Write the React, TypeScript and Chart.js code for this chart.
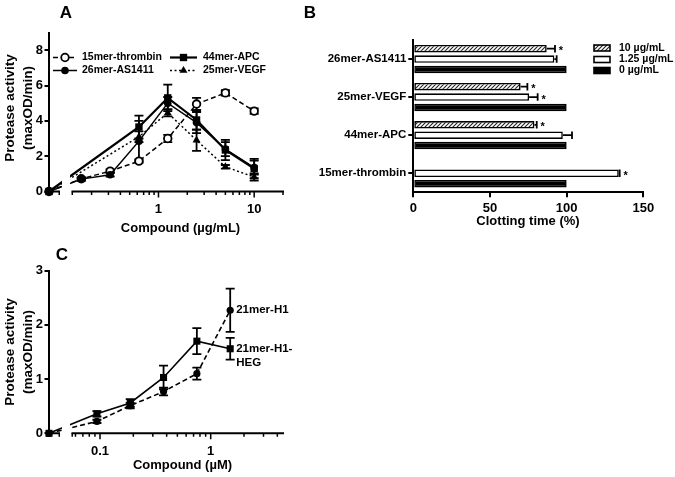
import { useEffect, useRef } from "react";
import { Chart, registerables } from "chart.js";

Chart.register(...registerables);

const FONT = "'Liberation Sans', Arial, Helvetica, sans-serif";
Chart.defaults.font.family = FONT;
Chart.defaults.color = "#000";

// ================= DATA =================
// Panel A: protease activity vs compound (µg/mL); 0 is drawn on the axis break
const A_DOSE = [0, 0.15625, 0.3125, 0.625, 1.25, 2.5, 5, 10];
const A_SERIES = ["15mer-thrombin", "26mer-AS1411", "44mer-APC", "25mer-VEGF"];
const A_THROMBIN = [0, 0.72, 1.15, 1.72, 3.0, 4.95, 5.58, 4.55];
const A_THROMBIN_ERR = [0, 0.06, 0.1, 0.1, 0.2, 0.35, 0.15, 0.15];
const A_AS1411 = [0, 0.7, 0.95, 2.85, 5.0, 3.9, 2.4, 1.35];
const A_AS1411_ERR = [0, 0.1, 0.1, 1.15, 0.35, 0.6, 0.4, 0.4];
const A_APC = [0, null, null, 3.65, 5.3, 4.05, 2.35, 1.3];
const A_APC_ERR = [0, null, null, 0.65, 0.75, 0.55, 0.57, 0.55];
const A_VEGF = [0, null, null, 3.1, 4.45, 2.9, 1.4, 0.82];
const A_VEGF_ERR = [0, null, null, 0.3, 0.2, 0.6, 0.1, 0.2];
const A_Y_TICKS = [0, 2, 4, 6, 8];
const A_X_MAJOR = [1, 10];
const A_X_MINOR = [0.2, 0.3, 0.4, 0.5, 0.6, 0.7, 0.8, 0.9, 2, 3, 4, 5, 6, 7, 8, 9, 20];

// Panel B: clotting time (%)
const B_CATEGORIES = ["26mer-AS1411", "25mer-VEGF", "44mer-APC", "15mer-thrombin"];
const B_SERIES = ["10 µg/mL", "1.25 µg/mL", "0 µg/mL"];
const B_10 = [87, 70, 79, 0];
const B_10_ERR = [5.4, 4.4, 1.5, 0];
const B_10_STAR = [true, true, true, false];
const B_125 = [92, 75.5, 97.5, 134];
const B_125_ERR = [1.5, 5.6, 6, 0.6];
const B_125_STAR = [false, true, false, true];
const B_0 = [100, 100, 100, 100];
const B_0_ERR = [0, 0, 0, 0];
const B_0_STAR = [false, false, false, false];
const B_X_TICKS = [0, 50, 100, 150];

// Panel C: protease activity vs compound (µM)
const C_DOSE = [0, 0.09375, 0.1875, 0.375, 0.75, 1.5];
const C_SERIES = ["21mer-H1", "21mer-H1-HEG"];
const C_END_LABELS = [["21mer-H1"], ["21mer-H1-", "HEG"]];
const C_H1 = [0, 0.22, 0.51, 0.77, 1.1, 2.27];
const C_H1_ERR = [0, 0.03, 0.05, 0.07, 0.11, 0.4];
const C_HEG = [0, 0.36, 0.56, 1.03, 1.7, 1.56];
const C_HEG_ERR = [0, 0.05, 0.07, 0.22, 0.24, 0.2];
const C_Y_TICKS = [0, 1, 2, 3];
const C_X_MAJOR = [0.1, 1];
const C_X_MINOR = [0.06, 0.07, 0.08, 0.09, 0.2, 0.3, 0.4, 0.5, 0.6, 0.7, 0.8, 0.9, 2, 3, 4];

// ================= LAYOUT =================
const W = 675;
const H = 477;
const A_AREA = { left: 49, right: 283, top: 32.5, bottom: 191.5 };
const A_ZERO = 0.0718; // axis position where the "0" dose sits (before the break)
const A_LOG_MIN = 0.125;
const A_LOG_MAX = 20;
const B_AREA = { left: 413.3, right: 643.3, top: 40, bottom: 192.3 };
const B_LABEL_W = 110;
const C_AREA = { left: 49, right: 283, top: 270.7, bottom: 433.3 };
const C_ZERO = 0.0346;
const C_LOG_MIN = 0.0558;
const C_LOG_MAX = 4.5;
const ZERO_SEG = 11;
const MAJOR_LEN = 6;
const MINOR_LEN = 3.5;

const padOf = (a: any, yW: number) => ({ left: a.left - yW, right: W - a.right, top: a.top, bottom: 0 });
const bold = (px: number) => `bold ${px}px ${FONT}`;

type Style = { kind: string; r: number; lw: number; dash: number[]; order: number };
const A_STYLE: Style[] = [
  { kind: "open", r: 3.8, lw: 1.5, dash: [5, 3], order: 3 },
  { kind: "circle", r: 3.8, lw: 1.5, dash: [], order: 0 },
  { kind: "rect", r: 5.2, lw: 2.2, dash: [], order: 1 },
  { kind: "triangle", r: 4.6, lw: 1.5, dash: [2, 2.5], order: 2 },
];
const C_STYLE: Style[] = [
  { kind: "circle", r: 3.6, lw: 1.6, dash: [5, 3], order: 1 },
  { kind: "rect", r: 5, lw: 1.6, dash: [], order: 0 },
];

function text(ctx: CanvasRenderingContext2D, s: string, x: number, y: number, px: number, align: CanvasTextAlign = "left", rot = 0) {
  ctx.save();
  ctx.font = bold(px);
  ctx.fillStyle = "#000";
  ctx.textAlign = align;
  ctx.textBaseline = "middle";
  ctx.translate(x, y);
  if (rot) ctx.rotate(rot);
  ctx.fillText(s, 0, 0);
  ctx.restore();
}

function marker(ctx: CanvasRenderingContext2D, kind: string, x: number, y: number, r: number) {
  ctx.save();
  ctx.fillStyle = "#000";
  ctx.strokeStyle = "#000";
  ctx.lineWidth = 1.8;
  ctx.setLineDash([]);
  ctx.beginPath();
  if (kind === "open") {
    ctx.arc(x, y, r, 0, Math.PI * 2);
    ctx.fillStyle = "#fff";
    ctx.fill();
    ctx.stroke();
  } else if (kind === "circle") {
    ctx.arc(x, y, r, 0, Math.PI * 2);
    ctx.fill();
  } else if (kind === "rect") {
    const s = r * Math.SQRT1_2;
    ctx.rect(x - s, y - s, 2 * s, 2 * s);
    ctx.fill();
  } else {
    ctx.moveTo(x, y - r);
    ctx.lineTo(x + 0.866 * r, y + 0.5 * r);
    ctx.lineTo(x - 0.866 * r, y + 0.5 * r);
    ctx.closePath();
    ctx.fill();
  }
  ctx.restore();
}

function lineDataset(label: string, xs: number[], ys: (number | null)[], es: (number | null)[], st: Style, zero: number) {
  const data: any[] = [];
  const errors: number[] = [];
  xs.forEach((x, i) => {
    const y = ys[i];
    if (y == null) return;
    data.push({ x: x === 0 ? zero : x, y });
    errors.push((es[i] as number) || 0);
  });
  const open = st.kind === "open";
  return {
    label,
    data,
    errors,
    order: st.order,
    borderColor: "#000",
    borderWidth: st.lw,
    borderDash: st.dash,
    pointStyle: st.kind === "open" ? "circle" : st.kind,
    pointRadius: st.r,
    pointBackgroundColor: open ? "#fff" : "#000",
    pointBorderColor: "#000",
    pointBorderWidth: open ? 1.8 : 0,
    tension: 0,
    fill: false,
    clip: false,
  };
}

function drawVErrors(chart: any, cap: number) {
  const ctx = chart.ctx as CanvasRenderingContext2D;
  const ys = chart.scales.y;
  ctx.save();
  ctx.strokeStyle = "#000";
  ctx.lineWidth = 1.8;
  ctx.setLineDash([]);
  chart.data.datasets.forEach((ds: any, di: number) => {
    const meta = chart.getDatasetMeta(di);
    meta.data.forEach((el: any, i: number) => {
      const e = ds.errors[i];
      if (!e) return;
      const v = ds.data[i].y;
      const t = ys.getPixelForValue(v + e);
      const b = ys.getPixelForValue(v - e);
      ctx.beginPath();
      ctx.moveTo(el.x, t);
      ctx.lineTo(el.x, b);
      ctx.moveTo(el.x - cap, t);
      ctx.lineTo(el.x + cap, t);
      ctx.moveTo(el.x - cap, b);
      ctx.lineTo(el.x + cap, b);
      ctx.stroke();
    });
  });
  ctx.restore();
}

function drawBrokenX(chart: any, zero: number, start: number, end: number, major: number[], minor: number[]) {
  const ctx = chart.ctx as CanvasRenderingContext2D;
  const xs = chart.scales.x;
  const y = chart.chartArea.bottom;
  const x0 = xs.getPixelForValue(zero);
  const xa = xs.getPixelForValue(start);
  const xb = xs.getPixelForValue(end);
  ctx.save();
  ctx.strokeStyle = "#000";
  ctx.lineWidth = 2;
  ctx.beginPath();
  ctx.moveTo(x0 - 1, y);
  ctx.lineTo(x0 + ZERO_SEG, y);
  ctx.moveTo(xa - 0.5, y);
  ctx.lineTo(xb + 1, y);
  ctx.stroke();
  ctx.lineWidth = 1.5;
  ctx.beginPath();
  const tick = (x: number, len: number) => {
    ctx.moveTo(x, y);
    ctx.lineTo(x, y + len);
  };
  tick(x0 + ZERO_SEG - 0.75, MINOR_LEN);
  tick(xa + 0.25, MINOR_LEN);
  minor.forEach((v) => tick(xs.getPixelForValue(v), MINOR_LEN));
  major.forEach((v) => tick(xs.getPixelForValue(v), MAJOR_LEN));
  ctx.stroke();
  ctx.restore();
}

function clearGap(chart: any, zero: number, start: number) {
  const ctx = chart.ctx as CanvasRenderingContext2D;
  const xs = chart.scales.x;
  const x1 = xs.getPixelForValue(zero) + ZERO_SEG + 2;
  const x2 = xs.getPixelForValue(start) - 2;
  const { top, bottom } = chart.chartArea;
  ctx.save();
  ctx.fillStyle = "#fff";
  ctx.fillRect(x1, top, x2 - x1, bottom - 1.5 - top);
  ctx.restore();
}

function yTitle(ctx: CanvasRenderingContext2D, cy: number) {
  text(ctx, "Protease activity", 10.5, cy, 13.5, "center", -Math.PI / 2);
  text(ctx, "(maxOD/min)", 28, cy, 13.5, "center", -Math.PI / 2);
}

function legendSymbol(ctx: CanvasRenderingContext2D, st: Style, x1: number, x2: number, y: number) {
  ctx.save();
  ctx.strokeStyle = "#000";
  ctx.lineWidth = st.lw;
  ctx.setLineDash(st.dash);
  ctx.beginPath();
  ctx.moveTo(x1, y);
  ctx.lineTo(x2, y);
  ctx.stroke();
  ctx.restore();
  marker(ctx, st.kind, (x1 + x2) / 2, y, st.r);
}

const baseOptions = (area: any, yW: number) => ({
  responsive: false,
  animation: false as const,
  devicePixelRatio: 1,
  events: [] as any[],
  layout: { padding: padOf(area, yW) },
  plugins: { legend: { display: false }, tooltip: { enabled: false }, title: { display: false } },
});

const yAxis = (max: number, ticks: number[], width: number) => ({
  type: "linear" as const,
  min: 0,
  max,
  afterFit: (s: any) => { s.width = width; },
  afterBuildTicks: (s: any) => { s.ticks = ticks.map((v) => ({ value: v })); },
  grid: { drawOnChartArea: false, drawTicks: true, tickLength: 4.5, lineWidth: 2, color: "#000" },
  border: { display: true, width: 2, color: "#000" },
  ticks: { font: { size: 13, weight: "bold" as const }, padding: 1.5, color: "#000" },
});

const xLogAxis = (min: number, max: number, major: number[], height: number) => ({
  type: "logarithmic" as const,
  min,
  max,
  afterFit: (s: any) => { s.height = height; },
  afterBuildTicks: (s: any) => { s.ticks = major.map((v) => ({ value: v })); },
  grid: { display: false, drawTicks: false },
  border: { display: false },
  ticks: { font: { size: 13, weight: "bold" as const }, padding: 10, color: "#000", autoSkip: false, maxRotation: 0, callback: (v: any) => String(v) },
});

function configA(): any {
  const series = [
    [A_THROMBIN, A_THROMBIN_ERR],
    [A_AS1411, A_AS1411_ERR],
    [A_APC, A_APC_ERR],
    [A_VEGF, A_VEGF_ERR],
  ];
  const legendPos = [
    { x1: 53, x2: 77, tx: 82, y: 57.5 },
    { x1: 53, x2: 77, tx: 82, y: 70.5 },
    { x1: 170, x2: 197, tx: 203, y: 57.5 },
    { x1: 170, x2: 197, tx: 203, y: 70.5 },
  ];
  return {
    type: "line",
    data: {
      datasets: series.map((s, i) => lineDataset(A_SERIES[i], A_DOSE, s[0] as any, s[1] as any, A_STYLE[i], A_ZERO)),
    },
    options: {
      ...baseOptions(A_AREA, A_AREA.left),
      scales: {
        x: xLogAxis(A_ZERO, A_LOG_MAX, A_X_MAJOR, H - A_AREA.bottom),
        y: yAxis(9, A_Y_TICKS, A_AREA.left),
      },
    },
    plugins: [
      {
        id: "panelA",
        beforeDatasetsDraw(chart: any) {
          drawBrokenX(chart, A_ZERO, A_LOG_MIN, A_LOG_MAX, A_X_MAJOR, A_X_MINOR);
          drawVErrors(chart, 4.5);
        },
        afterDatasetsDraw(chart: any) {
          clearGap(chart, A_ZERO, A_LOG_MIN);
        },
        afterDraw(chart: any) {
          const ctx = chart.ctx;
          text(ctx, "A", 66, 13, 17, "center");
          yTitle(ctx, 108);
          text(ctx, "Compound (µg/mL)", 180.5, 228, 13, "center");
          A_SERIES.forEach((name, i) => {
            const p = legendPos[i];
            legendSymbol(ctx, A_STYLE[i], p.x1, p.x2, p.y);
            text(ctx, name, p.tx, p.y, 10.5, "left");
          });
        },
      },
    ],
  };
}

function hatchPattern(): CanvasPattern | string {
  const c = document.createElement("canvas");
  c.width = 4;
  c.height = 4;
  const g = c.getContext("2d");
  if (!g) return "#888";
  g.fillStyle = "#fff";
  g.fillRect(0, 0, 4, 4);
  g.strokeStyle = "#222";
  g.lineWidth = 1.1;
  g.beginPath();
  g.moveTo(0, 4);
  g.lineTo(4, 0);
  g.moveTo(-1, 1);
  g.lineTo(1, -1);
  g.moveTo(3, 5);
  g.lineTo(5, 3);
  g.stroke();
  return g.createPattern(c, "repeat") || "#888";
}

function configB(): any {
  const hatch = hatchPattern();
  const fills = [hatch, "#fff", "#000"];
  const vals = [B_10, B_125, B_0];
  const errs = [B_10_ERR, B_125_ERR, B_0_ERR];
  const stars = [B_10_STAR, B_125_STAR, B_0_STAR];
  return {
    type: "bar",
    data: {
      labels: B_CATEGORIES,
      datasets: B_SERIES.map((name, i) => ({
        label: name,
        data: vals[i],
        errors: errs[i],
        stars: stars[i],
        backgroundColor: fills[i],
        borderColor: "#000",
        borderWidth: 1.6,
        borderSkipped: false,
        categoryPercentage: 0.82,
        barPercentage: 0.72,
      })),
    },
    options: {
      ...baseOptions(B_AREA, B_LABEL_W),
      indexAxis: "y",
      scales: {
        x: {
          type: "linear",
          min: 0,
          max: 150,
          afterFit: (s: any) => { s.height = H - B_AREA.bottom; },
          afterBuildTicks: (s: any) => { s.ticks = B_X_TICKS.map((v) => ({ value: v })); },
          grid: { drawOnChartArea: false, drawTicks: true, tickLength: 5, lineWidth: 2, color: "#000" },
          border: { display: true, width: 2, color: "#000" },
          ticks: { font: { size: 13, weight: "bold" }, padding: 3, color: "#000" },
        },
        y: {
          type: "category",
          afterFit: (s: any) => { s.width = B_LABEL_W; },
          grid: { offset: false, drawOnChartArea: false, drawTicks: true, tickLength: 5, lineWidth: 2, color: "#000" },
          border: { display: true, width: 2, color: "#000" },
          ticks: { font: { size: 11.5, weight: "bold" }, padding: 2, color: "#000" },
        },
      },
    },
    plugins: [
      {
        id: "panelB",
        afterDatasetsDraw(chart: any) {
          const ctx = chart.ctx as CanvasRenderingContext2D;
          const xs = chart.scales.x;
          ctx.save();
          ctx.strokeStyle = "#000";
          ctx.lineWidth = 1.8;
          chart.data.datasets.forEach((ds: any, di: number) => {
            const meta = chart.getDatasetMeta(di);
            meta.data.forEach((el: any, i: number) => {
              const v = ds.data[i];
              const e = ds.errors[i];
              const xv = xs.getPixelForValue(v);
              const xe = xs.getPixelForValue(v + e);
              const half = el.height / 2;
              if (e > 0) {
                ctx.beginPath();
                ctx.moveTo(xv, el.y);
                ctx.lineTo(xe, el.y);
                ctx.moveTo(xe, el.y - half);
                ctx.lineTo(xe, el.y + half);
                ctx.stroke();
              }
              if (ds.stars[i]) text(ctx, "*", xe + 6, el.y + 2.5, 11, "center");
            });
          });
          ctx.restore();
        },
        afterDraw(chart: any) {
          const ctx = chart.ctx as CanvasRenderingContext2D;
          text(ctx, "B", 310, 13, 17, "center");
          text(ctx, "Clotting time (%)", 528, 221.5, 13, "center");
          const rows = [48, 59.5, 70.5];
          B_SERIES.forEach((name, i) => {
            ctx.save();
            ctx.fillStyle = fills[i] as any;
            ctx.strokeStyle = "#000";
            ctx.lineWidth = 1.6;
            ctx.fillRect(594, rows[i] - 3, 16, 6);
            ctx.strokeRect(594, rows[i] - 3, 16, 6);
            ctx.restore();
            text(ctx, name, 619, rows[i], 10.5, "left");
          });
        },
      },
    ],
  };
}

function configC(): any {
  const series = [
    [C_H1, C_H1_ERR],
    [C_HEG, C_HEG_ERR],
  ];
  return {
    type: "line",
    data: {
      datasets: series.map((s, i) => lineDataset(C_SERIES[i], C_DOSE, s[0], s[1], C_STYLE[i], C_ZERO)),
    },
    options: {
      ...baseOptions(C_AREA, C_AREA.left),
      scales: {
        x: xLogAxis(C_ZERO, C_LOG_MAX, C_X_MAJOR, H - C_AREA.bottom),
        y: yAxis(3, C_Y_TICKS, C_AREA.left),
      },
    },
    plugins: [
      {
        id: "panelC",
        beforeDatasetsDraw(chart: any) {
          drawBrokenX(chart, C_ZERO, C_LOG_MIN, C_LOG_MAX, C_X_MAJOR, C_X_MINOR);
          drawVErrors(chart, 4.5);
        },
        afterDatasetsDraw(chart: any) {
          clearGap(chart, C_ZERO, C_LOG_MIN);
        },
        afterDraw(chart: any) {
          const ctx = chart.ctx as CanvasRenderingContext2D;
          text(ctx, "C", 62, 255, 17, "center");
          yTitle(ctx, 352);
          text(ctx, "Compound (µM)", 182.5, 465, 13, "center");
          chart.data.datasets.forEach((_ds: any, di: number) => {
            const meta = chart.getDatasetMeta(di);
            const last = meta.data[meta.data.length - 1];
            C_END_LABELS[di].forEach((line, li) => {
              text(ctx, line, last.x + 6, last.y + li * 14, 11.5, "left");
            });
          });
        },
      },
    ],
  };
}

export default function App() {
  const a = useRef<HTMLCanvasElement>(null);
  const b = useRef<HTMLCanvasElement>(null);
  const c = useRef<HTMLCanvasElement>(null);
  useEffect(() => {
    document.body.style.margin = "0";
    const charts = [
      new Chart(a.current as HTMLCanvasElement, configA()),
      new Chart(b.current as HTMLCanvasElement, configB()),
      new Chart(c.current as HTMLCanvasElement, configC()),
    ];
    return () => charts.forEach((ch) => ch.destroy());
  }, []);
  const cs: any = { position: "absolute", left: 0, top: 0, width: W, height: H, display: "block" };
  return (
    <div style={{ position: "absolute", left: 0, top: 0, width: W, height: H, background: "#fff", overflow: "hidden" }}>
      <canvas ref={a} width={W} height={H} style={cs} />
      <canvas ref={b} width={W} height={H} style={cs} />
      <canvas ref={c} width={W} height={H} style={cs} />
    </div>
  );
}
